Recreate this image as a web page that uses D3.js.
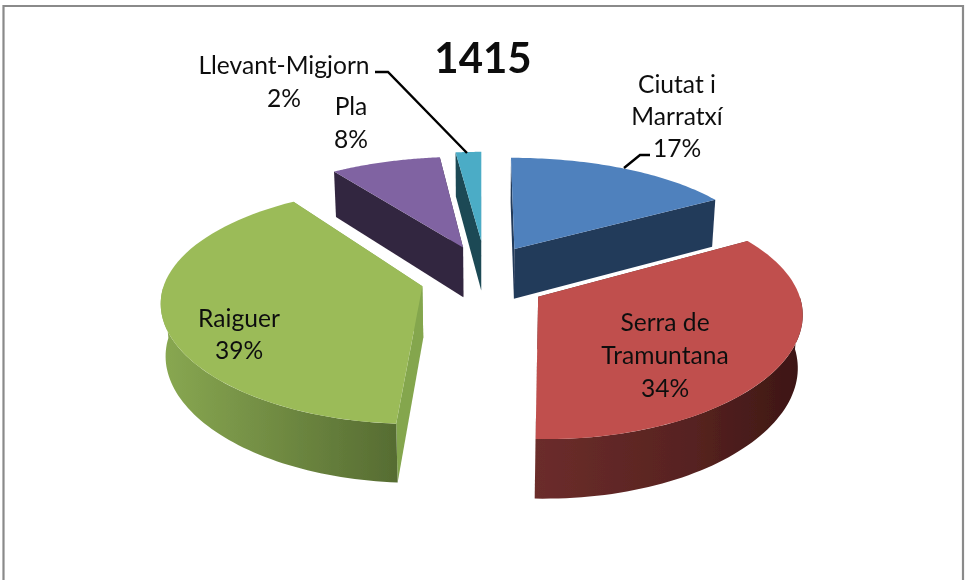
<!DOCTYPE html>
<html><head><meta charset="utf-8">
<script src="https://cdn.jsdelivr.net/npm/d3@7"></script>
<style>html,body{margin:0;padding:0;background:#fff;overflow:hidden}svg{display:block}text{font-family:Lato,sans-serif;fill:#111}</style>
</head><body>
<svg id="c" width="965" height="580"></svg>
<script>
const title = "1415";
const regions = ["Ciutat i Marratxí","Serra de Tramuntana","Raiguer","Pla","Llevant-Migjorn"];
const shares = [17,34,39,8,2];
const topColors = ["#4f81bd","#c0504d","#9bbb59","#8064a2","#4bacc6"];
const edgeColors = ["#243a5a","#5a2523","#84a64e","#33263f","#1d4a54"];
const labelLines = [["Ciutat i","Marratxí","17%"],["Serra de","Tramuntana","34%"],["Raiguer","39%"],["Pla","8%"],["Llevant-Migjorn","2%"]];

// layout
const W=965,H=580, cx=482, cy=276, A=256, B=113, KX=0.12, KY=0.155, M=0.015, D=52, EU=0.24, EV=0.335;
const nudgeU=[0.008,0.012,0.0,0.012,0.012], nudgeV=[0.04,0,-0.005,0.05,0.01];
// small angular corrections (degrees) for the chart's perspective
const trimStart=[0,-1.5,-0.1,0.8,0.5], trimEnd=[-1.5,-1.6,1.2,0.7,0];
const labelAnchor=[[677,93],[665,331],[239,327],[351,115],[284,74]];
const lineH=[32,33,32,33,33];
const paintOrder=[4,3,0,2,1];

const svg=d3.select("#c");
const defs=svg.append("defs");
defs.append("filter").attr("id","soft").attr("x",0).attr("y",0).attr("width",1).attr("height",1)
  .append("feGaussianBlur").attr("stdDeviation",0.45);
const root=svg.append("g").attr("filter","url(#soft)");
root.append("rect").attr("width",W).attr("height",H).attr("fill","#fff");
root.append("path").attr("d",`M3.5 ${H} V6 H963 V${H}`).attr("fill","none").attr("stroke","#8a8a8a").attr("stroke-width",2.2);

function proj(u,v,h){
  const wx=1/(1-KX*v+M*h), wy=1/(1-KY*v+M*h);
  return [cx+A*u*wx, cy+(B*v+D*h)*wy];
}
const pie=d3.pie().sort(null)(shares);
const lineGen=d3.line();
const deg=d3.scaleLinear().domain([0,360]).range([0,2*Math.PI]);

function grad(id,stops,x0,x1){
  const g=defs.append("linearGradient").attr("id",id).attr("gradientUnits","userSpaceOnUse").attr("x1",x0).attr("x2",x1).attr("y1",0).attr("y2",0);
  stops.forEach(s=>g.append("stop").attr("offset",s[0]).attr("stop-color",s[1]));
}
grad("gRed",[[0,"#6c2d2b"],[0.6,"#562220"],[1,"#3c1614"]],533,803);
grad("gGreen",[[0,"#88a751"],[1,"#566c32"]],165,398);

const wallFill=["#243a5a","url(#gRed)","url(#gGreen)","#33263f","#1d4a54"];

paintOrder.forEach(i=>{
  const s0=pie[i], mid=(s0.startAngle+s0.endAngle)/2;
  const s={startAngle:s0.startAngle+deg(trimStart[i]), endAngle:s0.endAngle+deg(trimEnd[i])};
  const ou=EU*Math.sin(mid)+nudgeU[i], ov=-EV*Math.cos(mid)+nudgeV[i];
  const P=(a,r,h)=>proj(ou+r*Math.sin(a),ov-r*Math.cos(a),h);
  const arcPts=(a0,a1,h)=>d3.range(0,61).map(t=>P(a0+(a1-a0)*t/60,1,h));
  const g=root.append("g");
  const apex=P(0,0,0), st=P(s.startAngle,1,0), en=P(s.endAngle,1,0);
  const radial=a=>[P(a,0,0),P(a,1,0),P(a,1,1),P(a,0,1)];
  const startVisible=st[0]<apex[0], endVisible=en[0]>apex[0];
  if(!startVisible) g.append("path").attr("d",lineGen(radial(s.startAngle))+"Z").attr("fill",edgeColors[i]);
  if(!endVisible) g.append("path").attr("d",lineGen(radial(s.endAngle))+"Z").attr("fill",edgeColors[i]);
  if(startVisible) g.append("path").attr("d",lineGen(radial(s.startAngle))+"Z").attr("fill",edgeColors[i]);
  if(endVisible) g.append("path").attr("d",lineGen(radial(s.endAngle))+"Z").attr("fill",edgeColors[i]);
  const a0=Math.max(s.startAngle,deg(90)), a1=Math.min(s.endAngle,deg(270));
  if(a1>a0){
    const pts=arcPts(a0,a1,0).concat(arcPts(a0,a1,1).reverse());
    g.append("path").attr("d",lineGen(pts)+"Z").attr("fill",wallFill[i]);
  }
  const top=[apex].concat(arcPts(s.startAngle,s.endAngle,0));
  g.append("path").attr("d",lineGen(top)+"Z").attr("fill",topColors[i]);
});

const leaders=[[[650,155],[640,155],[624,168]],[[375,72],[388,72],[467,153]]];
leaders.forEach(l=>root.append("path").attr("d",lineGen(l)).attr("fill","none").attr("stroke","#000").attr("stroke-width",2.4));

labelLines.forEach((ls,i)=>{
  const t=root.append("text").attr("text-anchor","middle").attr("font-size",24.6);
  ls.forEach((l,j)=>t.append("tspan").attr("x",labelAnchor[i][0]).attr("y",labelAnchor[i][1]+j*lineH[i]).text(l));
});
root.append("text").attr("x",483).attr("y",73).attr("text-anchor","middle").attr("font-size",42).attr("font-weight",700).text(title);
</script>
</body></html>
